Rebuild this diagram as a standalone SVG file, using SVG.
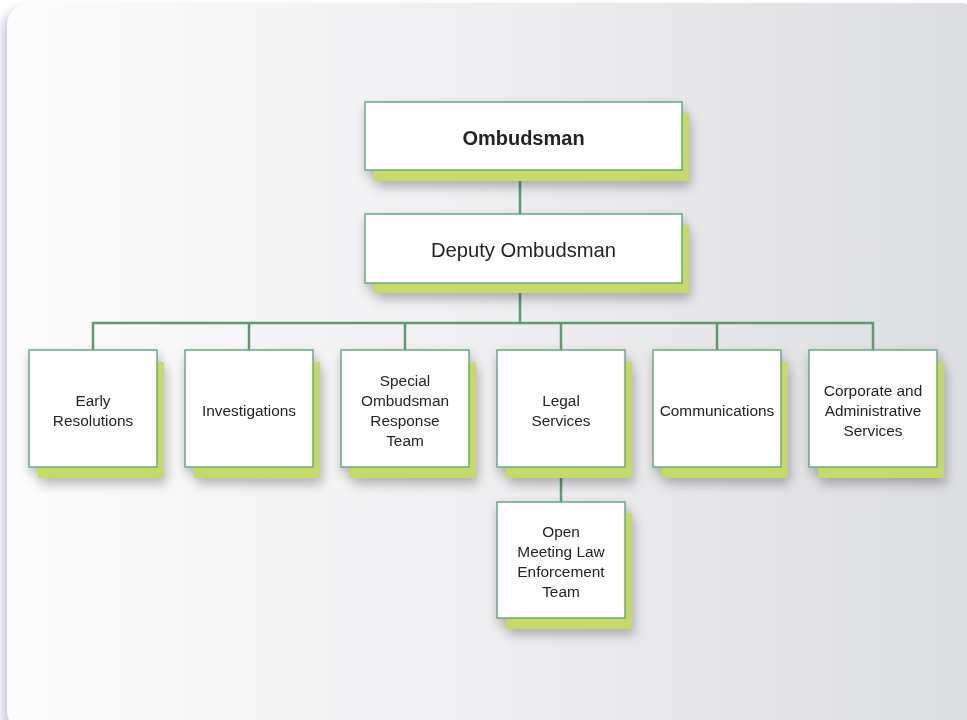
<svg xmlns="http://www.w3.org/2000/svg" width="967" height="720" viewBox="0 0 967 720">
<defs>
<linearGradient id="bg" x1="0" y1="0" x2="1" y2="0">
<stop offset="0" stop-color="#fcfcfd"/>
<stop offset="0.45" stop-color="#f0f0f2"/>
<stop offset="1" stop-color="#dcdde0"/>
</linearGradient>
<filter id="panelShadow" x="-5%" y="-5%" width="110%" height="110%">
<feGaussianBlur stdDeviation="4"/>
</filter>
<filter id="soft" x="-20%" y="-20%" width="150%" height="150%">
<feGaussianBlur in="SourceAlpha" stdDeviation="6"/>
<feOffset dx="2" dy="6"/>
<feComponentTransfer><feFuncA type="linear" slope="0.28"/></feComponentTransfer>
<feMerge><feMergeNode/><feMergeNode in="SourceGraphic"/></feMerge>
</filter>
<style>
.box{fill:#ffffff;stroke:#6aa883;stroke-width:1.5}
.sh{fill:#c6da6b}
.con{stroke:#5b9b74;stroke-width:2.5;fill:none}
.t{font-family:"Liberation Sans",Arial,Helvetica,sans-serif;fill:#262425;text-anchor:middle}
.s{font-size:15.4px}
</style>
</defs>
<rect x="0" y="0" width="967" height="720" fill="#ffffff"/>
<rect x="2" y="8" width="975" height="730" rx="22" fill="#c9cce3" filter="url(#panelShadow)"/>
<rect x="7" y="3" width="975" height="730" rx="22" fill="url(#bg)"/>

<g id="connectors">
<line class="con" x1="520" y1="170" x2="520" y2="214"/>
<line class="con" x1="520" y1="283" x2="520" y2="323"/>
<polyline class="con" points="93,350 93,323 873,323 873,350"/>
<line class="con" x1="249" y1="323" x2="249" y2="350"/>
<line class="con" x1="405" y1="323" x2="405" y2="350"/>
<line class="con" x1="561" y1="323" x2="561" y2="350"/>
<line class="con" x1="717" y1="323" x2="717" y2="350"/>
<line class="con" x1="561" y1="467" x2="561" y2="502"/>
</g>

<g id="ombudsman" filter="url(#soft)">
<rect class="sh" x="374" y="113" width="315" height="68"/>
<rect class="box" x="365" y="102" width="317" height="68"/>
<text class="t" x="523.5" y="145" font-size="20" font-weight="bold">Ombudsman</text>
</g>

<g id="deputy" filter="url(#soft)">
<rect class="sh" x="374" y="225" width="315" height="68"/>
<rect class="box" x="365" y="214" width="317" height="69"/>
<text class="t" x="523.5" y="256.5" font-size="20.2">Deputy Ombudsman</text>
</g>

<g id="early" filter="url(#soft)">
<rect class="sh" x="38" y="362" width="126" height="116"/>
<rect class="box" x="29" y="350" width="128" height="117"/>
<text class="t s" x="93" y="405.5">Early</text>
<text class="t s" x="93" y="425.5">Resolutions</text>
</g>

<g id="investigations" filter="url(#soft)">
<rect class="sh" x="194" y="362" width="126" height="116"/>
<rect class="box" x="185" y="350" width="128" height="117"/>
<text class="t s" x="249" y="415.5">Investigations</text>
</g>

<g id="sort" filter="url(#soft)">
<rect class="sh" x="350" y="362" width="126" height="116"/>
<rect class="box" x="341" y="350" width="128" height="117"/>
<text class="t s" x="405" y="385.5">Special</text>
<text class="t s" x="405" y="405.5">Ombudsman</text>
<text class="t s" x="405" y="425.5">Response</text>
<text class="t s" x="405" y="445.5">Team</text>
</g>

<g id="legal" filter="url(#soft)">
<rect class="sh" x="506" y="362" width="126" height="116"/>
<rect class="box" x="497" y="350" width="128" height="117"/>
<text class="t s" x="561" y="405.5">Legal</text>
<text class="t s" x="561" y="425.5">Services</text>
</g>

<g id="communications" filter="url(#soft)">
<rect class="sh" x="662" y="362" width="126" height="116"/>
<rect class="box" x="653" y="350" width="128" height="117"/>
<text class="t s" x="717" y="415.5">Communications</text>
</g>

<g id="corporate" filter="url(#soft)">
<rect class="sh" x="818" y="362" width="126" height="116"/>
<rect class="box" x="809" y="350" width="128" height="117"/>
<text class="t s" x="873" y="395.5">Corporate and</text>
<text class="t s" x="873" y="415.5">Administrative</text>
<text class="t s" x="873" y="435.5">Services</text>
</g>

<g id="openmeeting" filter="url(#soft)">
<rect class="sh" x="506" y="513" width="126" height="116"/>
<rect class="box" x="497" y="502" width="128" height="116"/>
<text class="t s" x="561" y="536.5">Open</text>
<text class="t s" x="561" y="556.5">Meeting Law</text>
<text class="t s" x="561" y="576.5">Enforcement</text>
<text class="t s" x="561" y="596.5">Team</text>
</g>
</svg>
